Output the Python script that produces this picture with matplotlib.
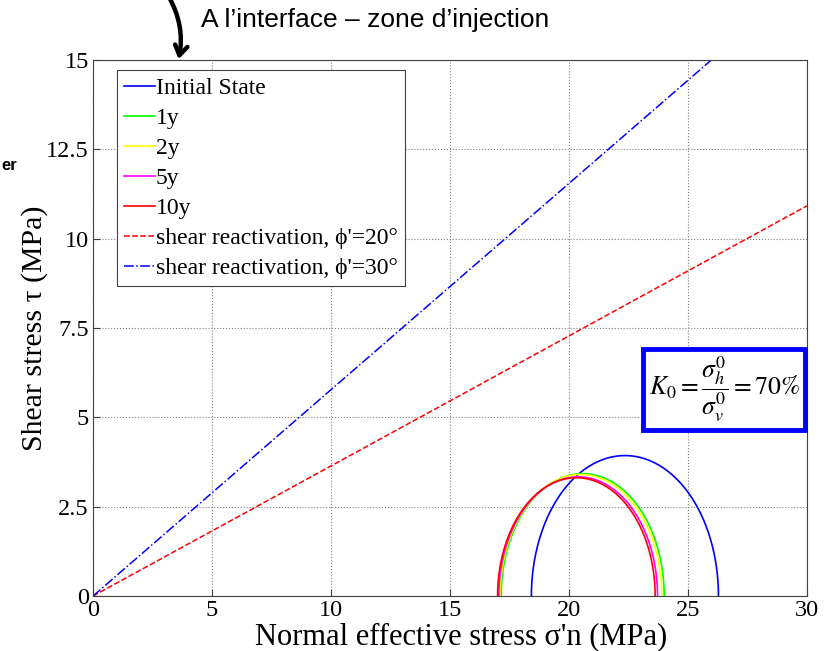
import numpy as np
import matplotlib
matplotlib.use("Agg")
import matplotlib.pyplot as plt

plt.rcParams['font.family'] = ['Liberation Serif', 'DejaVu Serif']
plt.rcParams['mathtext.fontset'] = 'stix'

# Mohr circles: (sigma_min, sigma_max) in MPa
labels = ['Initial State', '1y', '2y', '5y', '10y']
colors = ['#0000ff', '#00ff00', '#ffff00', '#ff00ff', '#ff0000']
s_min = [18.42, 17.15, 17.10, 17.05, 17.00]
s_max = [26.28, 24.00, 23.90, 23.72, 23.62]

# friction angles of reactivation lines (deg)
phi = [20, 30]
phi_colors = ['#ff0000', '#0000ff']
phi_styles = ['--', '-.']

fig = plt.figure(figsize=(8.28, 6.51), dpi=100)
ax = fig.add_axes([93/828, 1 - 596/651, (807-93)/828, (596-60)/651])

th = np.linspace(0, np.pi, 300)
for lab, c, a, b in zip(labels, colors, s_min, s_max):
    cen = (a + b) / 2
    r = (b - a) / 2
    ax.plot(cen + r*np.cos(th), r*np.sin(th), color=c, lw=1.2, label=lab)

x = np.linspace(0, 30, 200)
for p, c, ls in zip(phi, phi_colors, phi_styles):
    ax.plot(x, np.tan(np.radians(p))*x, color=c, ls=ls, lw=1.1,
            label="shear reactivation, \u03d5'=%d\u00b0" % p)

ax.set_xlim(0, 30)
ax.set_ylim(0, 15)
ax.set_xticks([0, 5, 10, 15, 20, 25, 30])
ax.set_yticks([0, 2.5, 5, 7.5, 10, 12.5, 15])
ax.set_yticklabels(['0', '2.5', '5', '7.5', '10', '12.5', '15'])
ax.tick_params(direction='in', labelsize=17.5, length=5, color='#404040', pad=3)
ax.grid(True, ls=':', color='#808080', lw=0.8)
for s in ax.spines.values():
    s.set_color('#404040')
ax.set_xlabel("Normal effective stress \u03c3'n (MPa)", fontsize=22)
ax.set_ylabel("Shear stress \u03c4 (MPa)", fontsize=21.5)
ax.xaxis.set_label_coords(0.515, -0.049, transform=ax.transAxes)
ax.yaxis.set_label_coords(-0.063, 0.5, transform=ax.transAxes)

leg = ax.legend(loc='upper left', bbox_to_anchor=(0.0336, 0.981), fontsize=17,
                handlelength=1.3, handletextpad=0.05, borderpad=0.3,
                labelspacing=0.36, fancybox=False, framealpha=1,
                edgecolor='#404040', borderaxespad=0)
leg.get_frame().set_linewidth(0.8)

ax.text(0.8838, 0.386, r'$K_0=\dfrac{\sigma_h^0}{\sigma_v^0}=70\%$',
        transform=ax.transAxes, fontsize=18.5, ha='center', va='center',
        bbox=dict(boxstyle='square,pad=0.22', fc='white', ec='#0000ff', lw=3.5))

fig.text(201/828, 1 - 20/651, "A l\u2019interface \u2013 zone d\u2019injection",
         fontsize=19, family='Liberation Sans', va='center', ha='left')
fig.text(1/828, 1 - 166/651, "er", fontsize=12, family='Liberation Sans',
         weight='bold', va='center', ha='left')

ax.annotate('', xy=(178/828, 1 - 62/651), xytext=(167/828, 1.01),
            xycoords='figure fraction', textcoords='figure fraction',
            arrowprops=dict(arrowstyle='->,head_length=0.7,head_width=0.45',
                            lw=3.2, color='black',
                            connectionstyle='arc3,rad=-0.2'),
            annotation_clip=False)

fig.savefig('out.png', dpi=100)
